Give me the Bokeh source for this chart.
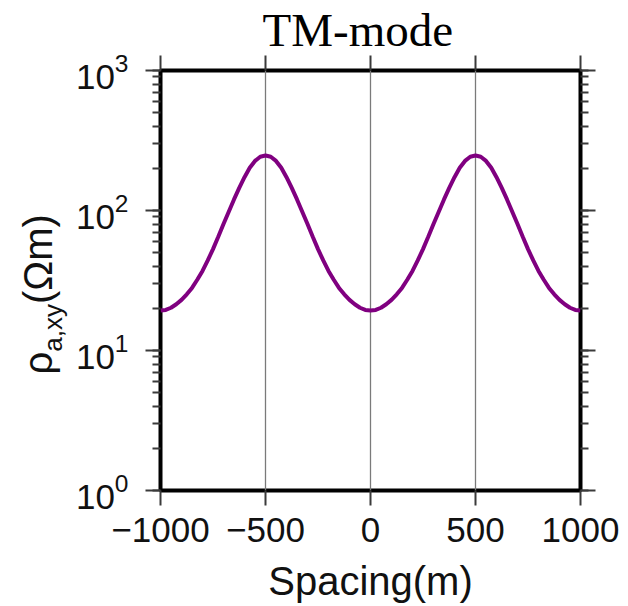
import math
from bokeh.plotting import figure
from bokeh.layouts import row
from bokeh.models import (Range1d, LinearAxis, LogAxis, FixedTicker, LogTicker,
                          Label, CustomJSTickFormatter, ColumnDataSource)
from bokeh.embed import file_html
from bokeh.resources import INLINE

# ---- data ----
spacing = [-1000, -975, -950, -925, -900, -875, -850, -825, -800, -775,
           -750, -725, -700, -675, -650, -625, -600, -575, -550, -525,
           -500, -475, -450, -425, -400, -375, -350, -325, -300, -275,
           -250, -225, -200, -175, -150, -125, -100, -75, -50, -25,
           0, 25, 50, 75, 100, 125, 150, 175, 200, 225,
           250, 275, 300, 325, 350, 375, 400, 425, 450, 475,
           500, 525, 550, 575, 600, 625, 650, 675, 700, 725,
           750, 775, 800, 825, 850, 875, 900, 925, 950, 975, 1000]
rho_a_xy = [19.3, 19.5, 20.2, 21.4, 23, 25.2, 28, 32, 37, 44,
            53, 65, 80, 98, 120, 145, 173, 202, 226, 242,
            247, 242, 226, 202, 173, 145, 120, 98, 80, 65,
            53, 44, 37, 32, 28, 25.2, 23, 21.4, 20.2, 19.5,
            19.3, 19.5, 20.2, 21.4, 23, 25.2, 28, 32, 37, 44,
            53, 65, 80, 98, 120, 145, 173, 202, 226, 242,
            247, 242, 226, 202, 173, 145, 120, 98, 80, 65,
            53, 44, 37, 32, 28, 25.2, 23, 21.4, 20.2, 19.5, 19.3]
x_ticks = [-1000, -500, 0, 500, 1000]
x_tick_labels = ["\u22121000", "\u2212500", "0", "500", "1000"]
grid_positions = [-500, 0, 500]
title_text = "TM-mode"
x_label = "Spacing(m)"
y_label_main = "\u03c1"
y_label_sub = "a,xy"
y_label_unit = "(\u03a9m)"

SANS = "Liberation Sans"
SERIF = "Liberation Serif"
INK = "#111111"

LABEL_W = 70   # width of the strip that carries the y-axis title

p = figure(frame_width=420, frame_height=420,
           x_range=Range1d(-1000, 1000), y_range=Range1d(1, 1000),
           y_axis_type="log", output_backend="svg", toolbar_location=None,
           min_border_left=160 - LABEL_W, min_border_right=48,
           min_border_top=70, min_border_bottom=116)
p.background_fill_color = "white"
p.border_fill_color = "white"
p.outline_line_color = "black"
p.outline_line_width = 4

# title
p.title.text = title_text
p.title.text_font = SERIF
p.title.text_font_size = "47px"
p.title.text_font_style = "normal"
p.title.text_color = "black"
p.title.align = "left"
p.title.offset = 102
p.title.standoff = 0

# grid: only vertical lines at inner ticks
p.ygrid.visible = False
p.xgrid.ticker = FixedTicker(ticks=grid_positions)
p.xgrid.grid_line_color = "#7a7a7a"
p.xgrid.grid_line_width = 1.3

def style_axis(ax, labels=True, minor=False):
    ax.axis_line_color = None
    ax.major_tick_out = 15
    ax.major_tick_in = 0
    ax.major_tick_line_width = 2
    ax.major_tick_line_color = "#3a3a3a"
    if minor:
        ax.minor_tick_out = 8
        ax.minor_tick_in = 0
        ax.minor_tick_line_width = 2
        ax.minor_tick_line_color = "#3a3a3a"
    else:
        ax.minor_tick_line_color = None
    ax.major_label_text_font = SANS
    ax.major_label_text_color = INK
    if labels:
        ax.major_label_text_font_size = "35px"
    else:
        ax.formatter = CustomJSTickFormatter(code="return ''")
        ax.major_label_text_font_size = "1px"
        ax.major_label_standoff = 0

# bottom x axis
xax = p.xaxis[0]
xax.ticker = FixedTicker(ticks=x_ticks)
xax.major_label_overrides = {t: s for t, s in zip(x_ticks, x_tick_labels)}
style_axis(xax)
xax.major_label_standoff = 12
xax.axis_label = x_label
xax.axis_label_text_font = SANS
xax.axis_label_text_font_size = "40px"
xax.axis_label_text_font_style = "normal"
xax.axis_label_text_color = INK
xax.axis_label_standoff = 14

# left y axis
yax = p.yaxis[0]
yax.ticker = LogTicker(num_minor_ticks=10)
style_axis(yax, minor=True)
yax.major_label_standoff = 17

# top and right frame axes (ticks only)
top = LinearAxis(ticker=FixedTicker(ticks=x_ticks))
style_axis(top, labels=False)
p.add_layout(top, "above")
right = LogAxis(ticker=LogTicker(num_minor_ticks=10))
style_axis(right, labels=False, minor=True)
p.add_layout(right, "right")

# curve
src = ColumnDataSource(dict(x=spacing, y=rho_a_xy))
p.line("x", "y", source=src, line_color="#800080", line_width=4)

# ---- strip on the left carrying the rotated y-axis title ----
# (its frame is aligned with the main frame: 70 px wide, page y 70..490)
lab = figure(width=LABEL_W, height=606, x_range=Range1d(0, LABEL_W), y_range=Range1d(0, 420),
             output_backend="svg", toolbar_location=None,
             x_axis_location=None, y_axis_location=None, min_border=0)
lab.title.visible = False
lab.grid.visible = False
lab.outline_line_color = None
lab.background_fill_color = "white"
lab.border_fill_color = "white"

fs_main = 40
fs_sub = 26
shift_main = 20      # empirical offset of rotated text anchor
shift_sub = 13
base_x = 57          # wanted baseline position (page pixels)
y0 = 490 - 374       # bottom end of the label, measured up from the frame bottom
w_rho = 0.57 * fs_main
w_sub = 1.834 * fs_sub
for txt, xx, yy, fs in [(y_label_main, base_x - shift_main, y0, fs_main),
                        (y_label_sub, base_x + 8 - shift_sub, y0 + w_rho, fs_sub),
                        (y_label_unit, base_x - shift_main, y0 + w_rho + w_sub, fs_main)]:
    lab.add_layout(Label(x=xx, y=yy, x_units="screen", y_units="screen",
                         text=txt, text_font=SANS,
                         text_font_size=f"{fs}px", angle=math.pi / 2,
                         text_align="left", text_baseline="alphabetic",
                         text_color=INK))

layout = row(lab, p)
open("out.html", "w").write(file_html(layout, INLINE))
